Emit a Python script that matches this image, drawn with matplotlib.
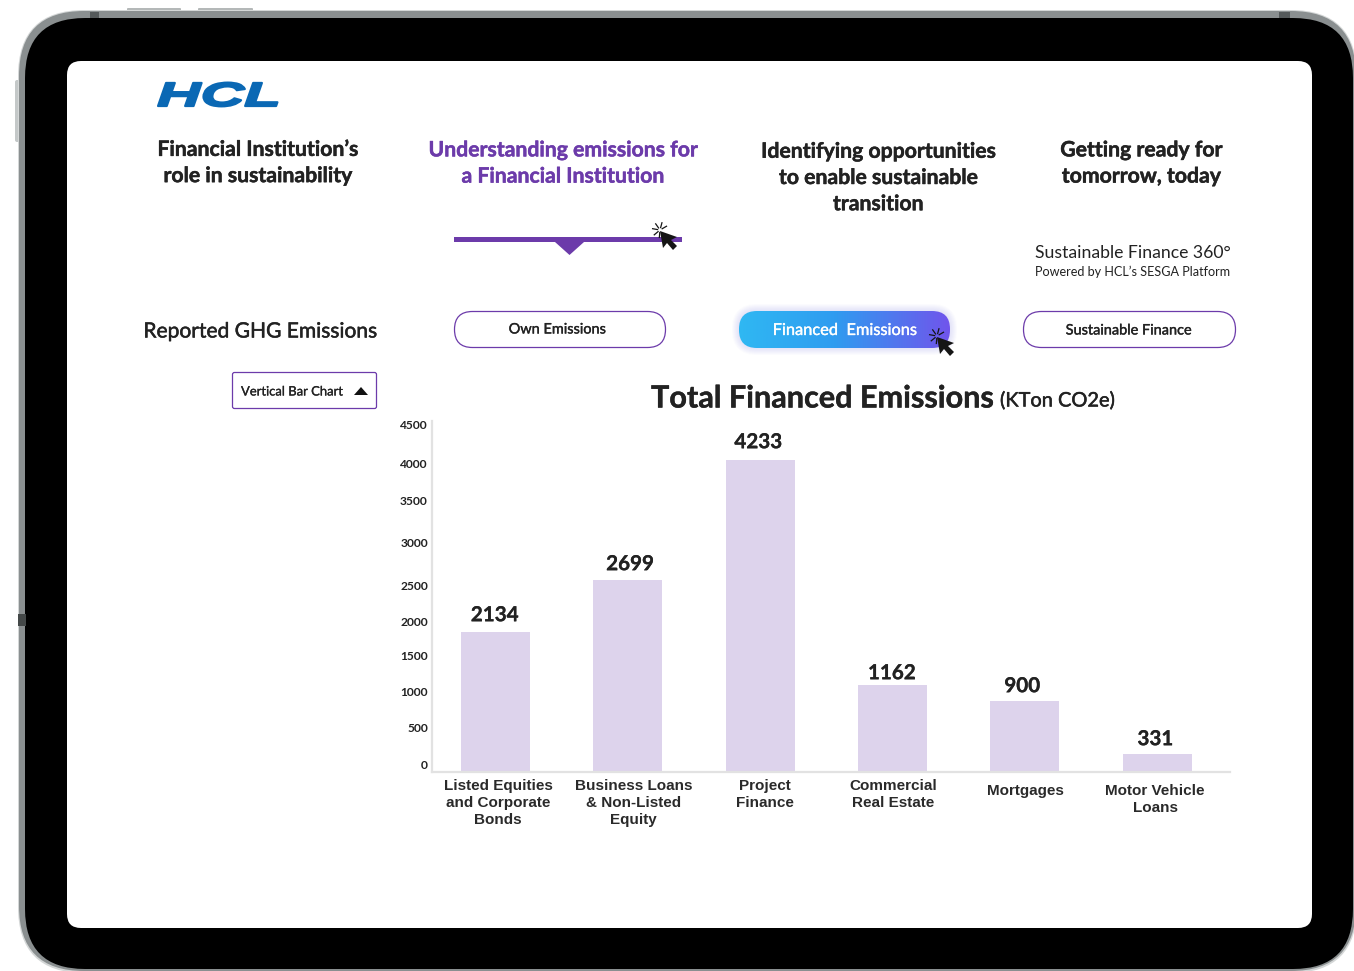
import numpy as np
import matplotlib
matplotlib.use("Agg")
import matplotlib.pyplot as plt
from matplotlib.patches import FancyBboxPatch, Polygon, Rectangle
from matplotlib.transforms import Affine2D
from matplotlib.patheffects import AbstractPathEffect, withStroke

categories = ["Listed Equities\nand Corporate\nBonds", "Business Loans\n& Non-Listed\nEquity",
              "Project\nFinance", "Commercial\nReal Estate", "Mortgages", "Motor Vehicle\nLoans"]
value_labels = [2134, 2699, 4233, 1162, 900, 331]
drawn_heights = [1886, 2592, 4233, 1167, 950, 231]
tick_labels = [0, 500, 1000, 1500, 2000, 2500, 3000, 3500, 4000, 4500]
tick_positions = [94, 596, 1085, 1573, 2029, 2523, 3107, 3676, 4178, 4708]

W, H = 1354, 971
LATO = ["Lato", "DejaVu Sans"]
ARIAL = ["Liberation Sans", "DejaVu Sans"]
INK = "#222222"
PURPLE = "#6C3BAA"
px = 0.72

fig = plt.figure(figsize=(W / 100, H / 100), dpi=100, facecolor="white")
ov = fig.add_axes([0, 0, 1, 1], zorder=1)
ov.set_xlim(0, W); ov.set_ylim(H, 0); ov.axis("off")


def rrect(x0, y0, x1, y1, r, **kw):
    p = FancyBboxPatch((x0 + r, y0 + r), x1 - x0 - 2 * r, y1 - y0 - 2 * r,
                       boxstyle=f"round,pad={r},rounding_size={r}", **kw)
    ov.add_patch(p)
    return p


# Device frame
for x0, x1 in [(127, 181), (198, 253)]:
    rrect(x0, 8, x1, 16, 1, fc="#b4b8b8", ec="none")
rrect(15, 80, 24, 142, 2, fc="#c4c8c8", ec="none")
rrect(18, 10, 1357, 973, 66, fc="#d4d7d7", ec="none")
rrect(19, 11, 1356, 971, 65, fc="#8a8f90", ec="none")
rrect(25, 18, 1353, 969, 60, fc="black", ec="none")
ov.add_patch(Rectangle((90, 12), 9, 6, fc="#555a5b", ec="none"))
ov.add_patch(Rectangle((1279, 12), 11, 6, fc="#555a5b", ec="none"))
ov.add_patch(Rectangle((18, 614), 8, 12, fc="#444848", ec="none"))
rrect(67, 61, 1312, 928, 14, fc="white", ec="none")


class Stretch(AbstractPathEffect):
    def __init__(self, sx, bold, origin):
        super().__init__()
        self.sx, self.bold, self.origin = sx, bold, origin

    def draw_path(self, renderer, gc, tpath, affine, rgbFace=None):
        a = Affine2D(affine.get_matrix().copy()).translate(-self.origin, 0).scale(self.sx, 1).translate(self.origin, 0)
        g = renderer.new_gc()
        g.copy_properties(gc)
        g.set_linewidth(self.bold)
        g.set_foreground(rgbFace)
        renderer.draw_path(g, tpath, a, rgbFace)
        g.restore()


ov.text(157, 106, "HCL", family=ARIAL, weight="bold", style="italic", fontsize=33.5 * px,
        color="#0A68B4", ha="left", va="baseline", path_effects=[Stretch(1.8, 1.6, 157.0)])


def label(x, y, s, size, color=INK, weight="bold", ha="center", fam=LATO, ls=None, stroke=0.0, **kw):
    d = dict(family=fam, fontsize=size * px, color=color, weight=weight, ha=ha, va="center")
    if ls:
        d["linespacing"] = ls
    if stroke:
        d["path_effects"] = [withStroke(linewidth=stroke, foreground=color)]
    return ov.text(x, y, s, **d, **kw)


label(257.5, 163, "Financial Institution’s\nrole in sustainability", 21.2, ls=1.39, stroke=0.35)
label(562.5, 163.5, "Understanding emissions for\na Financial Institution", 21.2, color=PURPLE, ls=1.39, stroke=0.35)
label(878, 178, "Identifying opportunities\nto enable sustainable\ntransition", 21.2, ls=1.39, stroke=0.35)
label(1141, 163.5, "Getting ready for\ntomorrow, today", 21.2, ls=1.39, stroke=0.35)
label(1035, 253.5, "Sustainable Finance 360°", 17.6, weight="normal", ha="left")
label(1035, 271.5, "Powered by HCL’s SESGA Platform", 12.6, weight="normal", ha="left")
label(260, 331.5, "Reported GHG Emissions", 21, weight="normal", stroke=0.35)

# Slider
ov.add_patch(Rectangle((454, 237), 228, 5, fc=PURPLE, ec="none"))
ov.add_patch(Polygon([(555, 242), (584, 242), (569.5, 255)], fc=PURPLE, ec="none"))


def cursor(cx, cy):
    """Pointer with click rays; (cx, cy) is the arrow tip."""
    pts = np.array([(0, 0), (3, 17), (7, 12), (13, 19), (17, 15), (11, 9), (17, 6)])
    ov.add_patch(Polygon(pts + (cx, cy), fc="#151515", ec="none", zorder=6))
    for a in [95, 140, 190, 235, 285, 330]:
        t = np.radians(a)
        ov.plot([cx + 2.5 * np.cos(t), cx + 7.5 * np.cos(t)], [cy - 1 + 2.5 * np.sin(t), cy - 1 + 7.5 * np.sin(t)],
                color="#151515", lw=0.9, zorder=6)


cursor(660, 231)

# Buttons
rrect(454.5, 311.5, 665.5, 347.5, 18, fc="white", ec=PURPLE, lw=0.9)
label(557.5, 329.5, "Own Emissions", 14.5, weight="normal", stroke=0.25)
rrect(1023.5, 311.5, 1235.5, 347.5, 18, fc="white", ec=PURPLE, lw=0.9)
label(1129, 330.5, "Sustainable Finance", 14.5, weight="normal", stroke=0.25)

for g in range(7, 0, -1):
    rrect(739 - g, 311 - g, 950 + g, 348 + g, 18 + g, fc="#6f6cf0", ec="none", alpha=0.022)
btn = rrect(739, 311, 950, 348, 18, fc="none", ec="none")
c0 = np.array([0x2F, 0xB8, 0xF3]); c1 = np.array([0x2F, 0x9C, 0xF0]); c2 = np.array([0x70, 0x55, 0xEC])
t = np.linspace(0, 1, 256)
rgb = np.where((t < 0.45)[:, None], c0 + (c1 - c0) * (t / 0.45)[:, None],
               c1 + (c2 - c1) * ((t - 0.45) / 0.55)[:, None]) / 255
im = ov.imshow(rgb[None, :, :], extent=(739, 950, 348, 311), aspect="auto", zorder=2)
im.set_clip_path(btn)
ov.set_xlim(0, W); ov.set_ylim(H, 0)
label(845, 331, "Financed  Emissions", 16.4, color="white", weight="normal", stroke=0.25, zorder=3)
cursor(937, 337)

# Dropdown
rrect(232.5, 372.5, 376.5, 408.5, 2, fc="white", ec=PURPLE, lw=0.9)
label(241, 391.5, "Vertical Bar Chart", 13, weight="normal", ha="left", stroke=0.2)
ov.add_patch(Polygon([(354, 395), (368, 395), (361, 387)], fc="#111111", ec="none"))

# Title
ov.text(651, 407.5, "Total Financed Emissions", family=LATO, weight="bold", fontsize=30.6 * px,
        color=INK, ha="left", va="baseline", path_effects=[withStroke(linewidth=0.3, foreground=INK)])
ov.text(1000, 406.5, "(KTon CO2e)", family=LATO, weight="normal", fontsize=20 * px,
        color=INK, ha="left", va="baseline", path_effects=[withStroke(linewidth=0.35, foreground=INK)])

# Chart
ax = fig.add_axes([432 / W, 1 - 771.5 / H, (1230 - 432) / W, (771.5 - 421) / H], zorder=3)
ax.patch.set_alpha(0)
x = np.arange(len(categories))
ax.set_xlim(-0.48, 5.55)
ax.set_ylim(0, 350.5 / (312 / 4233))
bars = ax.bar(x, drawn_heights, width=0.52, color="#DDD3EC")
for s in ["top", "right"]:
    ax.spines[s].set_visible(False)
for s in ["left", "bottom"]:
    ax.spines[s].set_color("#E2E2E2"); ax.spines[s].set_linewidth(1.6)
ax.set_yticks(tick_positions, [str(v) for v in tick_labels], family=LATO, weight="bold",
              fontsize=12 * px, color=INK)
ax.tick_params(axis="y", length=0, pad=3)
ax.set_xticks([])
label_shift_x = [0, 3, -1, 0, -2, -1]
label_shift_y = [7.3, 6.3, 7.3, 2.3, 5.3, 5.3]
for b, v, sx, sy in zip(bars, value_labels, label_shift_x, label_shift_y):
    ax.annotate(str(v), (b.get_x() + b.get_width() / 2, b.get_height()),
                xytext=((sx - 0.7) * px, sy * px), textcoords="offset points", ha="center", va="bottom",
                family=LATO, weight="bold", fontsize=20.6 * px, color=INK,
                path_effects=[withStroke(linewidth=0.2, foreground=INK)])
label_dx = [2.5, 5.5, 4.5, 0.5, 1, -2]
label_top = [778.5, 778.5, 778.5, 778.5, 784, 784]
for xi, c, dx, ty in zip(x, categories, label_dx, label_top):
    ax.annotate(c, (xi, 0), xytext=(dx * px, -(ty - 771.5) * px), textcoords="offset points",
                ha="center", va="top", family=ARIAL, weight="bold", fontsize=15.2 * px,
                color="#2a2a2a", linespacing=1.3, annotation_clip=False)

fig.savefig("out.png", dpi=100)
